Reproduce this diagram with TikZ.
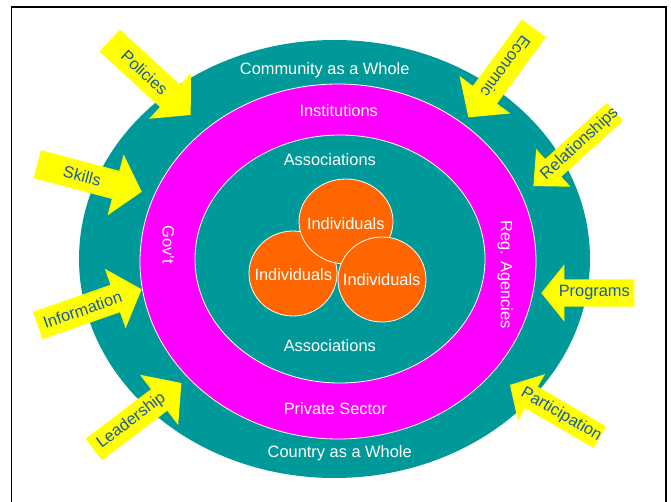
\documentclass[tikz,border=0pt]{standalone}
\usepackage{fontspec}
\setmainfont{Liberation Sans}
\usetikzlibrary{shapes.geometric}

\definecolor{ringteal}{RGB}{0,153,153}
\definecolor{ringmag}{RGB}{255,0,255}
\definecolor{indorange}{RGB}{255,102,0}
\definecolor{arrowyellow}{RGB}{255,255,0}
\definecolor{arrowtext}{RGB}{22,92,160}

\tikzset{
  labelfont/.style={font=\fontsize{16.4}{19}\selectfont, inner sep=0pt},
  ringlabel/.style={labelfont, text=white},
  arrowlabel/.style={labelfont, text=arrowtext},
  ringedge/.style={draw=white, line width=0.8pt},
  indiv/.style={ellipse, fill=indorange, draw=white, line width=0.8pt, inner sep=0pt},
}

% block arrow: name, tail point, direction, length, shaft width,
% head width, head length, label angle, label
\newcommand{\blockarrow}[9]{%
  \begin{scope}[shift={#2}, rotate=#3]
    \fill[arrowyellow] (0,{#5/2}) -- ({#4-#7},{#5/2}) -- ({#4-#7},{#6/2})
      -- (#4,0) -- ({#4-#7},{-#6/2}) -- ({#4-#7},{-#5/2}) -- (0,{-#5/2}) -- cycle;
    \node[arrowlabel, rotate=#8] (#1) at ({0.43*#4},0) {#9};
  \end{scope}}

\begin{document}
\begin{tikzpicture}[x=1pt, y=-1pt]
  \useasboundingbox (0,0) rectangle (671,502);

  % rings
  \fill[ringteal] (334.5,259) ellipse [x radius=255.5pt, y radius=219pt];
  \filldraw[fill=ringmag, ringedge] (338,261.5) ellipse [x radius=198pt, y radius=177.5pt];
  \filldraw[fill=ringteal, ringedge] (340,259) ellipse [x radius=145pt, y radius=124pt];

  % individuals
  \node[indiv, minimum width=88pt, minimum height=85pt] (indL) at (293,273.5) {};
  \node[indiv, minimum width=94pt, minimum height=85pt] (indT) at (346,221.5) {};
  \node[indiv, minimum width=88pt, minimum height=85pt] (indR) at (382,279.5) {};
  \node[ringlabel] (indLtext) at (293.3,275) {Individuals};
  \node[ringlabel] (indTtext) at (345.8,223.3) {Individuals};
  \node[ringlabel] (indRtext) at (381.7,279.3) {Individuals};

  % ring labels
  \node[ringlabel] (community) at (324.7,70.7) {Community as a Whole};
  \node[ringlabel] (institutions) at (338.7,110.7) {Institutions};
  \node[ringlabel] (assocTop) at (329.8,160) {Associations};
  \node[ringlabel] (assocBot) at (329.8,346) {Associations};
  \node[ringlabel] (private) at (335.3,408.3) {Private Sector};
  \node[ringlabel] (country) at (339.7,453.3) {Country as a Whole};
  \node[ringlabel, rotate=-90] (govt) at (168.3,245) {Gov't};
  \node[ringlabel, rotate=-90] (regag) at (505,274.5) {Reg. Agencies};

  % incoming arrows
  \blockarrow{policies}{(109.7,40.5)}{-42.6}{110}{30}{62}{28}{-42.6}{Policies}
  \blockarrow{economic}{(533.8,28.3)}{-126.3}{110.5}{30}{63}{28}{-126.3}{Economic}
  \blockarrow{skills}{(37.3,164.2)}{-14.8}{108}{29}{63}{27}{-14.8}{Skills}
  \blockarrow{relationships}{(614.7,112)}{-137.7}{110}{24}{51}{27}{42.3}{Relationships}
  \blockarrow{information}{(37.8,325.5)}{19.2}{110}{29}{63}{28}{19.2}{Information}
  \blockarrow{programs}{(634.3,293)}{180}{93}{27}{57}{23}{0}{Programs}
  \blockarrow{leadership}{(93.8,449.5)}{37.2}{110}{27}{63}{28}{37.2}{Leadership}
  \blockarrow{participation}{(599.8,437.2)}{149.8}{104}{25}{54}{25}{-30.2}{Participation}

  % frame
  \draw[black, line width=1.5pt] (11.5,510) -- (11.5,7) -- (666,7) -- (666,510);
\end{tikzpicture}
\end{document}
